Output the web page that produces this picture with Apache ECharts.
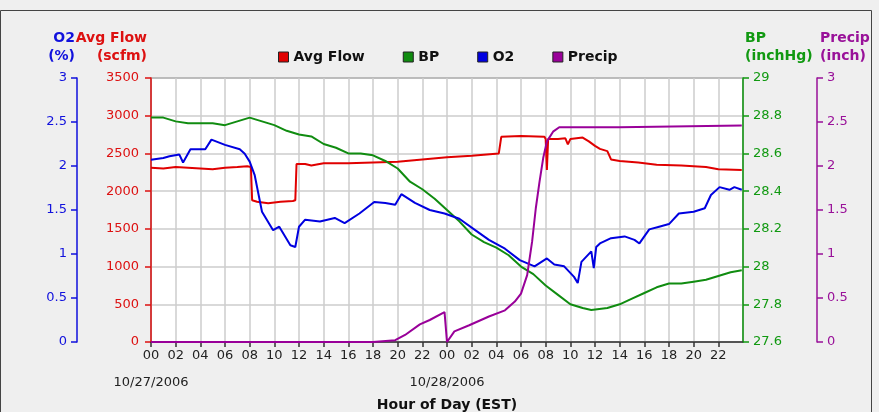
<!DOCTYPE html>
<html>
<head>
<meta charset="utf-8">
<script src="https://cdn.jsdelivr.net/npm/echarts/dist/echarts.min.js"></script>
<style>
  html, body { margin: 0; padding: 0; background: #efefef; }
  #chart { width: 879px; height: 412px; }
</style>
</head>
<body>
<div id="chart"></div>
<script>
// hours since 10/27/2006 00:00 EST
var dateLabels = ['10/27/2006', '10/28/2006'];

var flowHours = [0, 1, 2, 3, 4, 5, 6, 7, 7.8, 8.1, 8.2, 8.6, 9.5, 10.5, 11.5, 11.7, 11.8, 12.5, 13, 14, 16, 18, 20, 22, 24, 26, 28.2,
  28.4, 30, 31.9, 32.0, 32.1, 32.2, 33, 33.6, 33.8, 34, 35, 35.5, 36, 36.4, 37, 37.3, 38, 39.5, 41, 43, 45, 46, 47.9];
var flowValues = [2310, 2300, 2320, 2310, 2300, 2290, 2310, 2320, 2330, 2320, 1880, 1860, 1840, 1860, 1870, 1880, 2360, 2360, 2340, 2370, 2370, 2380, 2390, 2420, 2450, 2470, 2500,
  2720, 2730, 2720, 2690, 2280, 2690, 2690, 2700, 2620, 2690, 2710, 2660, 2600, 2560, 2530, 2420, 2400, 2380, 2350, 2340, 2320, 2290, 2280];

var bpHours = [0, 1, 2, 3, 4, 5, 6, 7, 8, 9, 10, 11, 12, 13, 14, 15, 16, 17, 18, 19, 20, 21, 22, 23, 24, 25, 26, 27, 28, 29, 30, 31, 32, 33, 34, 35, 35.7,
  37, 38, 39, 40, 41, 42, 43, 44, 45, 46, 47, 47.9];
var bpValues = [28.79, 28.79, 28.77, 28.76, 28.76, 28.76, 28.75, 28.77, 28.79, 28.77, 28.75, 28.72, 28.70, 28.69, 28.65, 28.63, 28.60, 28.60, 28.59, 28.56, 28.52, 28.45, 28.41, 28.36, 28.30, 28.24, 28.17, 28.13, 28.10, 28.06, 28.00, 27.96, 27.90, 27.85, 27.80, 27.78, 27.77,
  27.78, 27.80, 27.83, 27.86, 27.89, 27.91, 27.91, 27.92, 27.93, 27.95, 27.97, 27.98];

var o2Hours = [0, 1, 1.5, 2.3, 2.6, 3.2, 4.4, 4.9, 6, 7.2, 7.6, 8, 8.4, 9, 9.9, 10.4, 11.3, 11.7, 12, 12.5, 13.7, 14.9, 15.7, 16.9, 18.1, 19, 19.8, 20.3, 21.4, 22.6,
  23.8, 25, 26.2, 27.4, 28.7, 29.9, 31.1, 32.1, 32.7, 33.5, 34.3, 34.6, 34.9, 35.7, 35.9, 36.1, 36.4, 37.3, 38.4, 39.2, 39.6, 40.4, 41.2, 42, 42.8, 44, 44.9, 45.4, 46.1, 46.9, 47.3, 47.9];
var o2Values = [2.07, 2.09, 2.11, 2.13, 2.04, 2.19, 2.19, 2.30, 2.24, 2.19, 2.14, 2.05, 1.90, 1.48, 1.27, 1.31, 1.10, 1.08, 1.31, 1.39, 1.37, 1.41, 1.35, 1.46, 1.59, 1.58, 1.56, 1.68, 1.58, 1.50,
  1.46, 1.40, 1.28, 1.16, 1.06, 0.93, 0.86, 0.95, 0.88, 0.86, 0.74, 0.67, 0.91, 1.03, 0.84, 1.08, 1.12, 1.18, 1.20, 1.16, 1.12, 1.28, 1.31, 1.34, 1.46, 1.48, 1.52, 1.67, 1.76, 1.73, 1.76, 1.73];

var precipHours = [0, 18, 19.8, 20.6, 21.8, 22.6, 23.8, 23.95, 24.0, 24.6, 25.8, 27.4, 28.7, 29.5, 30, 30.5, 30.9, 31.2, 31.5, 31.8, 32.1, 32.6, 33.1, 38, 38.1, 47.9];
var precipValues = [0, 0, 0.02, 0.08, 0.20, 0.25, 0.34, 0.36, 0, 0.12, 0.19, 0.29, 0.36, 0.46, 0.55, 0.76, 1.14, 1.52, 1.82, 2.09, 2.28, 2.39, 2.44, 2.44, 2.46, 2.46];

function zip(xs, ys) {
  return xs.map(function (x, i) { return [x, ys[i]]; });
}

var FONT = 'DejaVu Sans';
var RED = '#dd1111', GREEN = '#119911', BLUE = '#1111dd', PURPLE = '#991199';

function yAxis(opt) {
  return {
    type: 'value',
    position: opt.position,
    offset: opt.offset,
    min: opt.min,
    max: opt.max,
    interval: opt.interval,
    name: opt.name,
    nameLocation: 'end',
    nameGap: 13,
    nameTextStyle: {
      color: opt.color, fontFamily: FONT, fontWeight: 'bold', fontSize: 14, lineHeight: 18,
      align: opt.position === 'left' ? 'right' : 'left',
      padding: opt.pad
    },
    axisLine: { show: true, onZero: false, lineStyle: { color: opt.color, width: 1.5 } },
    axisTick: { show: true, length: 6, lineStyle: { color: opt.color, width: 1.5 } },
    axisLabel: {
      color: opt.color, fontFamily: FONT, fontSize: 13, margin: opt.margin,
      formatter: function (v) { return String(+v.toFixed(1)); }
    },
    splitLine: { show: !!opt.grid, lineStyle: { color: '#cccccc', width: 1.5 } }
  };
}

var chart = echarts.init(document.getElementById('chart'));
chart.setOption({
  backgroundColor: '#efefef',
  animation: false,
  graphic: [{
    type: 'rect', z: 100,
    shape: { x: 0.5, y: 10.5, width: 871, height: 420 },
    style: { fill: 'none', stroke: '#444', lineWidth: 1 }
  }],
  legend: {
    top: 45, left: 273,
    icon: 'rect', itemWidth: 10, itemHeight: 10, itemGap: 38,
    itemStyle: { borderColor: '#222', borderWidth: 1 },
    textStyle: { fontFamily: FONT, fontWeight: 'bold', fontSize: 14, color: '#111' },
    data: ['Avg Flow', 'BP', 'O2', 'Precip']
  },
  grid: {
    left: 151, right: 136, top: 78, bottom: 70,
    containLabel: false, outerBoundsMode: 'none',
    show: true, backgroundColor: '#ffffff', borderColor: '#222', borderWidth: 1
  },
  xAxis: [{
    type: 'value', min: 0, max: 48, interval: 2,
    name: 'Hour of Day (EST)', nameLocation: 'middle', nameGap: 56,
    nameTextStyle: { fontFamily: FONT, fontWeight: 'bold', fontSize: 14, color: '#111' },
    axisLine: { onZero: false, lineStyle: { color: '#333', width: 1.5 } },
    axisTick: { length: 5, lineStyle: { color: '#333', width: 1.5 } },
    axisLabel: {
      color: '#222', fontFamily: FONT, fontSize: 13, margin: 7,
      showMinLabel: true, showMaxLabel: false, hideOverlap: false,
      formatter: function (v) { return String(Math.round(v) % 24).padStart(2, '0'); }
    },
    splitLine: { show: true, lineStyle: { color: '#cccccc', width: 1.5 } }
  }, {
    // date row under the hour labels
    type: 'value', min: 0, max: 48, interval: 24, position: 'bottom',
    axisLine: { show: false, onZero: false }, axisTick: { show: false }, splitLine: { show: false },
    axisLabel: {
      color: '#222', fontFamily: FONT, fontSize: 13, margin: 34,
      showMinLabel: true, showMaxLabel: false, hideOverlap: false,
      formatter: function (v) { return dateLabels[Math.round(v / 24)] || ''; }
    }
  }],
  yAxis: [
    yAxis({ position: 'left', offset: 0, min: 0, max: 3500, interval: 500, name: 'Avg Flow\n(scfm)', color: RED, grid: true, margin: 12, pad: [0, 4, 0, 0] }),
    yAxis({ position: 'left', offset: 74, min: 0, max: 3, interval: 0.5, name: 'O2\n(%)', color: BLUE, margin: 10, pad: [0, 2, 0, 0] }),
    yAxis({ position: 'right', offset: 0, min: 27.6, max: 29, interval: 0.2, name: 'BP\n(inchHg)', color: GREEN, margin: 10, pad: [0, 0, 0, 2] }),
    yAxis({ position: 'right', offset: 74, min: 0, max: 3, interval: 0.5, name: 'Precip\n(inch)', color: PURPLE, margin: 10, pad: [0, 0, 0, 3] })
  ],
  series: [
    { name: 'Avg Flow', type: 'line', yAxisIndex: 0, showSymbol: false, color: '#e00000',
      lineStyle: { width: 2 }, data: zip(flowHours, flowValues) },
    { name: 'BP', type: 'line', yAxisIndex: 2, showSymbol: false, color: '#108c10',
      lineStyle: { width: 2 }, data: zip(bpHours, bpValues) },
    { name: 'O2', type: 'line', yAxisIndex: 1, showSymbol: false, color: '#0000e0',
      lineStyle: { width: 2 }, data: zip(o2Hours, o2Values) },
    { name: 'Precip', type: 'line', yAxisIndex: 3, showSymbol: false, color: '#990099',
      lineStyle: { width: 2 }, data: zip(precipHours, precipValues) }
  ]
});
</script>
</body>
</html>
